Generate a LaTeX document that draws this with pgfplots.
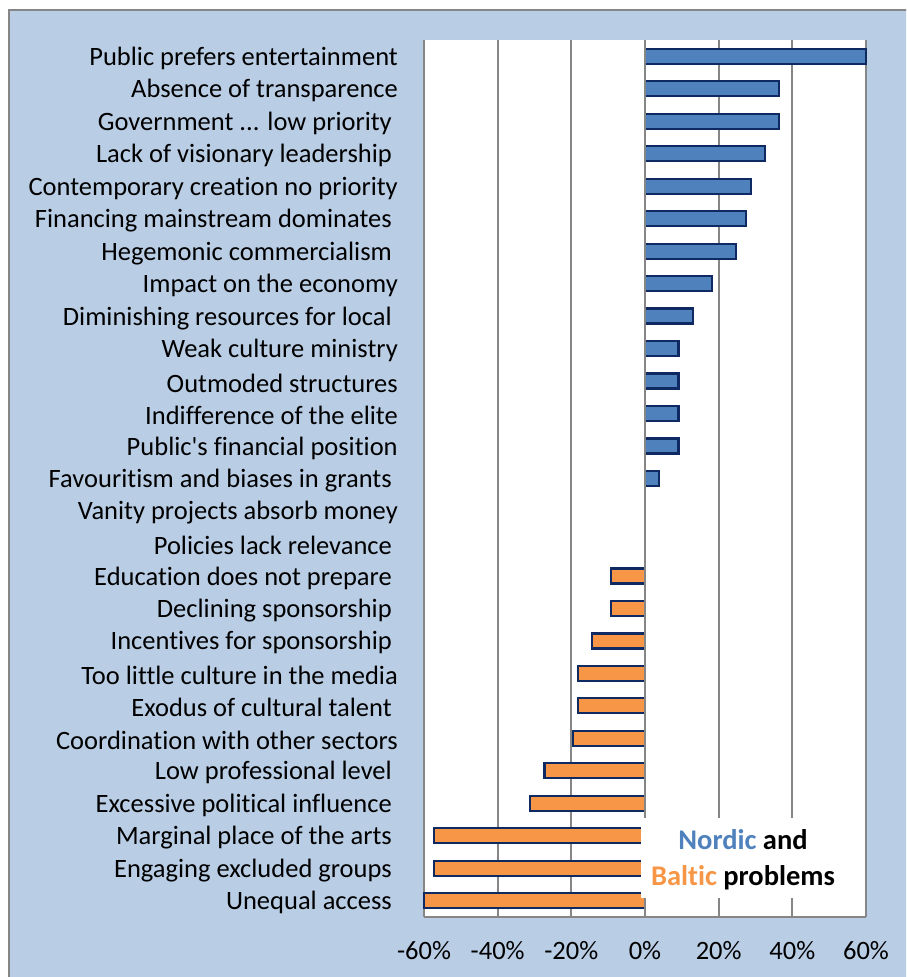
\documentclass[border=0pt]{standalone}
\usepackage{fontspec}
\setmainfont{Carlito}[Ligatures=NoCommon]
\newfontfamily\plaincarlito{Carlito}[Ligatures=NoCommon]
\usepackage{pgfplots}
\pgfplotsset{compat=1.18}
\definecolor{bgblue}{HTML}{B9CDE5}
\definecolor{frame}{HTML}{868686}
\definecolor{nordic}{HTML}{4F81BD}
\definecolor{baltic}{HTML}{F79646}
\definecolor{edge}{HTML}{0F2A63}
\definecolor{gridc}{HTML}{868686}
\newcommand{\tsp}{\kern6pt}
\begin{document}
\begin{tikzpicture}[x=1pt,y=1pt]
\fill[white] (0,0) rectangle (906,977);
\begin{scope}
\clip (0,0) rectangle (906,977);
\filldraw[fill=bgblue, draw=frame, line width=1.5pt] (9,-20) rectangle (930,967);
\end{scope}
\begin{axis}[
  at={(424pt,60pt)}, anchor=south west,
  scale only axis, width=442pt, height=877pt,
  xmin=-60, xmax=60, ymin=-0.5, ymax=26.5,
  y dir=reverse,
  axis background/.style={fill=white},
  axis lines*=left,
  y axis line style={draw=none},
  x axis line style={draw=gridc, line width=2pt},
  xmajorgrids, major grid style={draw=gridc, line width=2pt},
  major tick length=0pt,
  xtick={-60,-40,-20,0,20,40,60},
  xticklabels={-60\%,-40\%,-20\%,0\%,20\%,40\%,60\%},
  xticklabel style={font=\fontsize{26.5}{32}\selectfont, anchor=base, inner sep=0pt, yshift=-42pt},
  ytick={0,1,2,3,4,5,6,7,8,9,10,11,12,13,14,15,16,17,18,19,20,21,22,23,24,25,26},
  yticklabels={
    Public prefers entertainment,
    Absence of transparence,
    {Government .{}.{}. low priority\tsp},
    Lack of visionary leadership\tsp,
    Contemporary creation no priority,
    Financing mainstream dominates\tsp,
    Hegemonic commercialism\tsp,
    Impact on the economy,
    Diminishing resources for local\tsp,
    Weak culture ministry,
    Outmoded structures,
    Indifference of the elite,
    {\plaincarlito Public's financial position},
    Favouritism and biases in grants\tsp,
    Vanity projects absorb money,
    Policies lack relevance\tsp,
    Education does not prepare\tsp,
    Declining sponsorship\tsp,
    Incentives for sponsorship\tsp,
    Too little culture in the media,
    Exodus of cultural talent\tsp,
    Coordination with other sectors,
    Low professional level\tsp,
    Excessive political influence\tsp,
    Marginal place of the arts\tsp,
    Engaging excluded groups\tsp,
    Unequal access\tsp},
  yticklabel style={font=\fontsize{26.5}{32}\selectfont, anchor=east, inner sep=0pt, xshift=-26pt, yshift=-2pt},
  xbar, bar width=15pt,
  clip=false,
]
\addplot[xbar, bar shift=0pt, fill=nordic, draw=edge, line width=2.2pt] coordinates {
  (60,0) (36.4,1) (36.4,2) (32.6,3) (28.7,4) (27.4,5) (24.8,6) (18.2,7) (13.0,8)
  (9.1,9) (9.1,10) (9.1,11) (9.1,12) (3.8,13)
};
\addplot[xbar, bar shift=0pt, fill=baltic, draw=edge, line width=2.2pt] coordinates {
  (-9.2,16) (-9.2,17) (-14.3,18) (-18.2,19) (-18.2,20) (-19.6,21) (-27.3,22)
  (-31.3,23) (-57.2,24) (-57.2,25) (-60,26)
};
\draw[gridc, line width=2pt] (axis cs:0,-0.5) -- (axis cs:0,26.5);
\end{axis}
\fill[white] (641,79) rectangle (846,159);
\node[font=\fontsize{28.5}{34}\selectfont\bfseries, inner sep=0pt] at (743,137) {\textcolor{nordic}{Nordic} and};
\node[font=\fontsize{28.5}{34}\selectfont\bfseries, inner sep=0pt] at (743,99) {\textcolor{baltic}{Baltic} problems};
\pgfresetboundingbox
\path[use as bounding box] (0,0) rectangle (906,977);
\end{tikzpicture}
\end{document}
